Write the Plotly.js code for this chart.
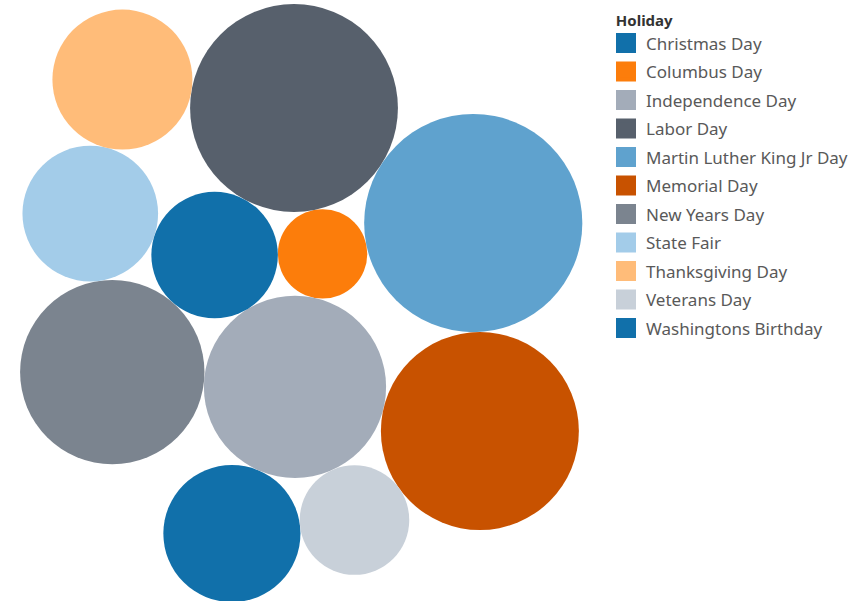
<!DOCTYPE html>
<html><head><meta charset="utf-8">
<script src="https://cdn.plot.ly/plotly-3.0.1.min.js"></script>
<style>html,body{margin:0;padding:0;background:#fff}#chart{width:864px;height:601px}</style>
</head><body><div id="chart"></div>
<script>
// ---- data ----
const holidays = ["Christmas Day","Columbus Day","Independence Day","Labor Day","Martin Luther King Jr Day","Memorial Day","New Years Day","State Fair","Thanksgiving Day","Veterans Day","Washingtons Birthday"];
const counts = [47, 20, 83, 108, 119, 98, 85, 46, 49, 30, 40];
const colors = ["#1170AA","#FC7D0B","#A3ACB9","#57606C","#5FA2CE","#C85200","#7B848F","#A3CCE9","#FFBC79","#C8D0D9","#1170AA"];
const legendTitle = "Holiday";

// ---- packing recipe (layout, not data): each circle is placed tangent to two already placed circles ----
const packSeed = "Labor Day";
const packSecond = {name: "Martin Luther King Jr Day", angleDeg: 32.7};
const packSteps = [
  ["Columbus Day", "Labor Day", "Martin Luther King Jr Day"],
  ["Washingtons Birthday", "Labor Day", "Columbus Day"],
  ["Independence Day", "Washingtons Birthday", "Columbus Day"],
  ["Memorial Day", "Independence Day", "Martin Luther King Jr Day"],
  ["New Years Day", "Washingtons Birthday", "Independence Day"],
  ["State Fair", "Washingtons Birthday", "New Years Day"],
  ["Thanksgiving Day", "Labor Day", "State Fair"],
  ["Veterans Day", "Independence Day", "Memorial Day"],
  ["Christmas Day", "Independence Day", "Veterans Day"]
];

const K = 10; // px radius per sqrt(count)
const radius = {};
holidays.forEach((h, i) => radius[h] = K * Math.sqrt(counts[i]));
const pos = {};
pos[packSeed] = [0, 0];
{
  const a = packSecond.angleDeg * Math.PI / 180, d = radius[packSeed] + radius[packSecond.name];
  pos[packSecond.name] = [d * Math.cos(a), d * Math.sin(a)];
}
packSteps.forEach(([n, A, B]) => {
  const pa = pos[A], pb = pos[B], r = radius[n];
  const da = radius[A] + r, db = radius[B] + r;
  const dx = pb[0] - pa[0], dy = pb[1] - pa[1], d = Math.hypot(dx, dy);
  const ux = dx / d, uy = dy / d;
  const x = (da * da - db * db + d * d) / (2 * d);
  const h = Math.sqrt(Math.max(0, da * da - x * x));
  pos[n] = [pa[0] + x * ux - h * uy, pa[1] + x * uy + h * ux];
});

const traces = [];
holidays.forEach((h, i) => {
  traces.push({
    type: "scatter", mode: "markers", x: [pos[h][0]], y: [pos[h][1]],
    marker: {size: [counts[i]], sizemode: "area", sizeref: 1 / (2 * K * K), color: colors[i], line: {width: 0}, opacity: 1},
    showlegend: false, hoverinfo: "skip", cliponaxis: false, legendgroup: h
  });
});
holidays.forEach((h, i) => {
  traces.push({
    type: "scatter", mode: "markers", x: [null], y: [null], name: h, legendgroup: h,
    marker: {symbol: "square", size: 16, color: colors[i], line: {width: 4, color: colors[i]}},
    hoverinfo: "skip"
  });
});

const plotW = 600, plotH = 601;
const seedPx = [294, 108];
const layout = {
  width: 864, height: 601,
  margin: {l: 0, r: 864 - plotW, t: 0, b: 0},
  paper_bgcolor: "#fff", plot_bgcolor: "#fff",
  xaxis: {range: [-seedPx[0], plotW - seedPx[0]], visible: false, fixedrange: true},
  yaxis: {range: [plotH - seedPx[1], -seedPx[1]], visible: false, fixedrange: true},
  showlegend: true,
  legend: {
    x: 1.01, xanchor: "left", y: 0.99, yanchor: "top",
    title: {text: "&nbsp;&nbsp;<b>" + legendTitle + "</b>", font: {family: "Noto Sans", size: 15, color: "#333333"}},
    font: {family: "Noto Sans", size: 17, color: "#595959"},
    tracegroupgap: 3.4, bgcolor: "rgba(0,0,0,0)", itemclick: false, itemdoubleclick: false
  }
};
Plotly.newPlot("chart", traces, layout, {staticPlot: true, displayModeBar: false});
</script>
</body></html>
